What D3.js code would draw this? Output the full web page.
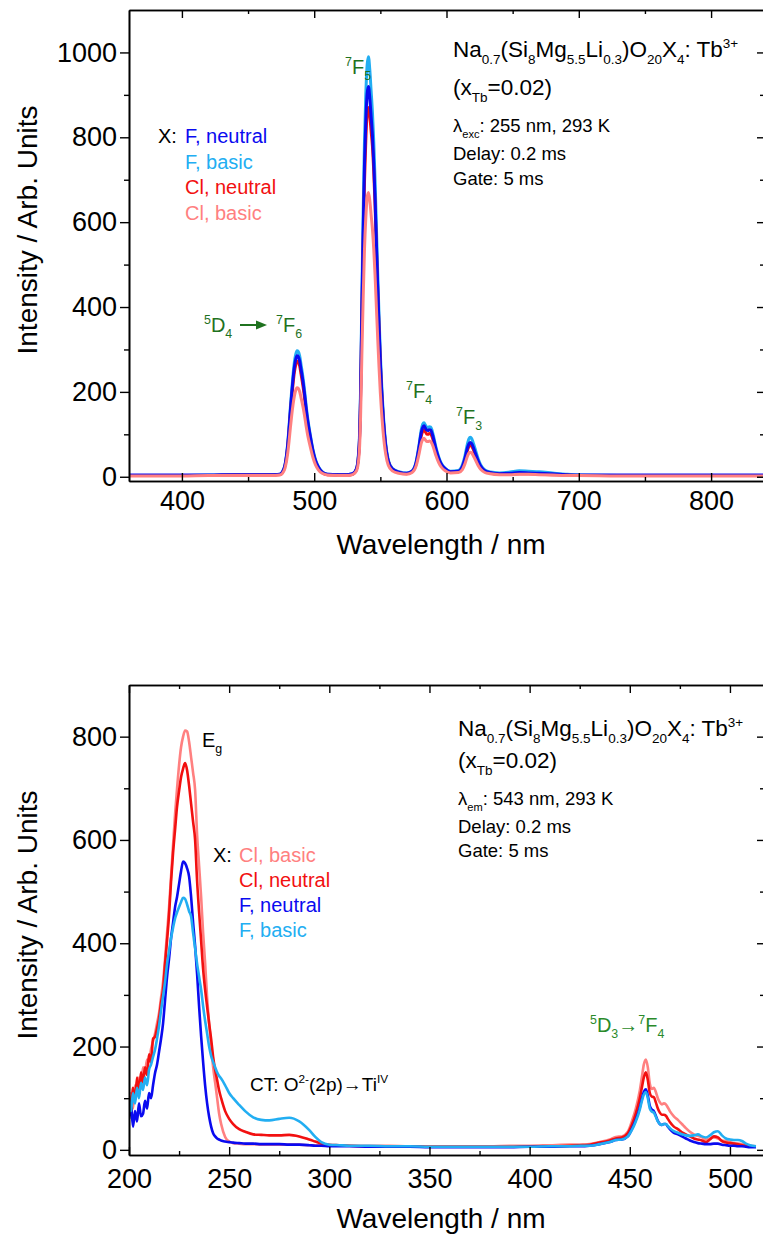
<!DOCTYPE html>
<html>
<head>
<meta charset="utf-8">
<script src="https://cdn.jsdelivr.net/npm/d3@7"></script>
<style>
  body { margin: 0; background: #fff; }
  svg { display: block; font-family: Arial, "Liberation Sans", sans-serif; }
</style>
</head>
<body>
<svg id="fig" width="763" height="1234"></svg>
<script>
// ---------- Emission spectra (λexc = 255 nm) ----------
const emWl = [360, 380, 400, 420, 440, 460, 470,
  474, 476, 478, 480,
  481, 482, 483, 484, 485, 486, 487, 488, 489, 490, 491, 492, 493, 494, 495,
  497, 499, 501, 503, 506, 510,
  518,
  525, 529, 532, 534,
  535, 536, 537, 538, 539, 540, 541, 542, 543, 544, 545, 546, 547, 548, 549, 550,
  552, 554, 556, 559, 564, 570,
  574, 577, 579,
  581, 582, 583, 584, 585, 586, 587, 588, 589, 590, 591, 592,
  594, 596, 599, 603,
  609, 612, 614, 616,
  617, 618, 619, 620, 621, 622,
  624, 626, 629, 633,
  640, 648, 655, 662, 670, 680, 690, 700,
  730, 760, 800, 840];

const emFBasic = [3, 3, 3, 4, 4, 4, 5,
  6, 12, 30, 80,
  120, 165, 205, 240, 270, 288, 297, 295, 285, 265, 245, 222, 195, 165, 140,
  100, 65, 40, 25, 12, 6,
  5,
  5, 7, 20, 80,
  200, 420, 620, 790, 900, 970, 990, 960, 910, 860, 790, 700, 590, 480, 380, 290,
  160, 80, 40, 20, 12, 9,
  14, 35, 70,
  112, 124, 127, 122, 117, 116, 118, 117, 110, 98, 84, 70,
  48, 32, 20, 13,
  15, 28, 50, 80,
  90, 93, 90, 82, 72, 62,
  42, 27, 16, 11,
  9, 11, 14, 13, 12, 9, 6, 4,
  3, 3, 3, 3];

const emFNeutral = [4, 4, 4, 4, 5, 5, 5,
  6, 11, 28, 76,
  114, 157, 196, 230, 258, 276, 285, 283, 273, 254, 235, 213, 187, 158, 134,
  96, 62, 38, 24, 11, 6,
  5,
  5, 7, 19, 74,
  186, 390, 576, 735, 837, 902, 920, 893, 850, 805, 740, 655, 552, 450, 356, 272,
  150, 75, 37, 19, 11, 8,
  13, 33, 66,
  105, 116, 120, 115, 110, 109, 111, 110, 103, 92, 79, 66,
  45, 30, 19, 12,
  13, 24, 44, 70,
  78, 81, 78, 72, 63, 54,
  37, 24, 14, 10,
  7, 8, 10, 9, 8, 7, 5, 4,
  4, 4, 4, 4];

const emClNeutral = [3, 3, 3, 3, 4, 4, 4,
  5, 10, 27, 72,
  108, 150, 187, 219, 246, 263, 272, 270, 261, 243, 224, 203, 178, 151, 128,
  91, 59, 36, 22, 10, 5,
  4,
  4, 6, 18, 70,
  176, 370, 545, 695, 792, 855, 870, 850, 815, 780, 720, 640, 540, 440, 348, 265,
  146, 72, 36, 18, 10, 7,
  12, 30, 61,
  97, 107, 110, 106, 101, 100, 102, 101, 95, 85, 73, 61,
  42, 28, 17, 11,
  12, 22, 40, 64,
  72, 75, 72, 66, 58, 50,
  34, 22, 13, 9,
  6, 6, 7, 7, 6, 5, 4, 3,
  3, 3, 3, 3];

const emClBasic = [2, 2, 2, 3, 3, 3, 3,
  4, 8, 21, 56,
  84, 116, 145, 170, 190, 204, 210, 208, 201, 187, 173, 157, 138, 117, 99,
  71, 46, 28, 17, 8, 4,
  3,
  3, 5, 14, 54,
  135, 284, 420, 535, 610, 657, 670, 652, 618, 584, 537, 475, 400, 326, 258, 197,
  109, 54, 27, 14, 8, 6,
  10, 25, 50,
  80, 88, 91, 87, 83, 83, 84, 83, 78, 70, 60, 50,
  34, 23, 14, 9,
  10, 17, 31, 50,
  56, 58, 56, 51, 45, 39,
  26, 17, 10, 7,
  5, 5, 6, 6, 5, 4, 3, 3,
  2, 2, 2, 2];

const emXMajor = [400, 500, 600, 700, 800];
const emXMinor = [450, 550, 650, 750];
const emYMajor = [0, 200, 400, 600, 800, 1000];
const emYMinor = [100, 300, 500, 700, 900];

// ---------- Excitation spectra (λem = 543 nm) ----------
const exWl = [200, 201, 202, 203, 204, 205, 206, 207, 208, 209, 210, 211, 212, 213, 214, 215,
  216, 217, 218, 219, 220, 221, 222, 223, 224, 225, 226, 227, 228, 229, 230, 231, 232, 233,
  234, 235, 236, 237, 238, 239, 240, 241, 242, 243, 244, 245, 246, 248, 250, 252, 255, 258,
  262, 266, 270, 275, 280, 285, 290, 293, 296, 300, 305, 310, 320, 330, 340, 350, 360, 370,
  380, 390, 400, 410, 420, 425, 430, 435, 440, 443, 446, 449, 451, 453, 455, 456, 457, 458,
  459, 460, 461, 462, 463, 464, 465, 466, 467, 468, 469, 470, 472, 474, 476, 478, 480, 482,
  484, 486, 488, 490, 492, 494, 496, 498, 500, 502, 504, 506, 508, 510, 513];

const exClBasic = [95, 110, 80, 125, 115, 140, 125, 160, 150, 175, 170, 195, 210, 225, 245, 265,
  295, 325, 370, 420, 470, 530, 590, 650, 700, 745, 780, 800, 812, 810, 790, 760, 730, 697,
  610, 550, 490, 420, 362, 295, 245, 200, 160, 130, 100, 70, 50, 25, 16, 13, 12, 11,
  11, 10, 10, 10, 10, 10, 9, 9, 9, 8, 8, 8, 8, 8, 7, 7, 7, 7,
  7, 8, 8, 9, 10, 10, 11, 15, 20, 25, 26, 35, 55, 80, 115, 140, 165, 175,
  160, 128, 118, 120, 112, 100, 92, 88, 90, 88, 82, 75, 65, 58, 50, 42, 35, 30,
  27, 24, 20, 22, 24, 22, 18, 17, 15, 13, 12, 11, 10, 8, 7];

const exClNeutral = [105, 70, 120, 95, 140, 110, 150, 130, 160, 145, 185, 170, 215, 219, 235, 255,
  285, 310, 360, 405, 455, 520, 575, 620, 665, 695, 722, 738, 749, 735, 705, 670, 635, 600,
  520, 460, 405, 350, 310, 277, 245, 215, 180, 155, 135, 115, 100, 75, 60, 50, 40, 35,
  30, 29, 28, 28, 29, 26, 20, 16, 12, 10, 9, 8, 7, 7, 7, 6, 6, 6,
  6, 6, 7, 7, 8, 9, 10, 14, 18, 22, 24, 32, 48, 70, 100, 120, 140, 150,
  135, 110, 103, 102, 92, 80, 72, 68, 68, 66, 60, 54, 45, 40, 34, 30, 26, 22,
  20, 18, 15, 20, 26, 24, 17, 14, 13, 12, 11, 9, 8, 7, 6];

const exFNeutral = [60, 85, 45, 75, 55, 90, 65, 70, 95, 80, 110, 100, 125, 149, 165, 190,
  215, 245, 290, 335, 370, 410, 440, 470, 490, 515, 540, 558, 555, 545, 529, 490, 440, 395,
  340, 277, 220, 170, 125, 90, 64, 45, 32, 26, 22, 20, 18, 16, 15, 14, 13, 12,
  12, 11, 11, 11, 10, 10, 9, 8, 8, 7, 7, 7, 6, 6, 6, 5, 5, 5,
  5, 5, 6, 6, 7, 7, 8, 11, 15, 19, 20, 26, 40, 58, 82, 98, 112, 117,
  105, 85, 78, 75, 66, 56, 50, 48, 50, 50, 45, 40, 33, 30, 26, 22, 18, 15,
  13, 12, 11, 11, 12, 12, 10, 9, 8, 8, 7, 7, 6, 5, 5];

const exFBasic = [97, 75, 110, 90, 120, 100, 130, 116, 140, 125, 155, 165, 180, 194, 215, 240,
  270, 297, 325, 360, 385, 410, 430, 448, 460, 470, 480, 488, 486, 475, 462, 452, 420, 390,
  360, 335, 310, 278, 250, 225, 200, 182, 170, 160, 150, 143, 138, 125, 110, 100, 87, 75,
  63, 58, 57, 60, 62, 55, 38, 25, 15, 10, 9, 8, 8, 7, 7, 6, 6, 6,
  6, 6, 6, 7, 7, 8, 8, 11, 15, 19, 20, 26, 38, 55, 78, 94, 107, 112,
  100, 80, 74, 72, 64, 55, 50, 48, 50, 50, 46, 42, 36, 33, 30, 28, 27, 28,
  30, 26, 24, 28, 34, 36, 28, 22, 20, 19, 19, 17, 12, 9, 7];

const exXMajor = [200, 250, 300, 350, 400, 450, 500];
const exXMinor = [225, 275, 325, 375, 425, 475];
const exYMajor = [0, 200, 400, 600, 800];
const exYMinor = [100, 300, 500, 700];

const COLORS = {
  fNeutral: "#0a0af0",
  fBasic: "#22aef2",
  clNeutral: "#f21010",
  clBasic: "#ff8080",
  green1: "#1f721f",
  green2: "#2a8a2a"
};

const svg = d3.select("#fig");
const defs = svg.append("defs");
const TICK_FONT = 27;
const TITLE_FONT = 28;

// Text with sub/superscripts: parts = [[text, ""|"sub"|"sup"], ...]
function rich(sel, x, y, parts, fs, color, smallScale = 0.62) {
  const t = sel.append("text").attr("x", x).attr("y", y).attr("fill", color)
    .style("font-size", fs + "px");
  let cur = 0;
  parts.forEach(([s, k]) => {
    const target = k === "sub" ? fs * 0.3 : k === "sup" ? -fs * 0.42 : 0;
    t.append("tspan").attr("dy", (target - cur).toFixed(2))
      .style("font-size", (k ? fs * smallScale : fs) + "px").text(s);
    cur = target;
  });
  return t;
}

function drawPanel(cfg) {
  const x = d3.scaleLinear().domain(cfg.xDom).range([cfg.left, cfg.right]);
  const y = d3.scaleLinear().domain(cfg.yDom).range([cfg.bottom, cfg.top]);
  const g = svg.append("g");

  defs.append("clipPath").attr("id", cfg.name)
    .append("rect").attr("x", cfg.left).attr("y", cfg.top)
    .attr("width", cfg.right - cfg.left).attr("height", cfg.bottom - cfg.top);

  const line = d3.line()
    .x((d, i) => x(cfg.wl[i]))
    .y(d => y(d))
    .curve(d3.curveMonotoneX);

  const lines = g.append("g").attr("clip-path", `url(#${cfg.name})`);
  cfg.series.forEach(s => {
    lines.append("path").attr("d", line(s.values))
      .attr("fill", "none").attr("stroke", s.color)
      .attr("stroke-width", cfg.lw).attr("stroke-linejoin", "round");
  });

  const styleAxis = a => {
    a.attr("font-family", null).attr("font-size", null);
    a.selectAll("path.domain").attr("stroke", "#000").attr("stroke-width", 1.6);
    a.selectAll(".tick line").attr("stroke", "#000").attr("stroke-width", 1.4);
    a.selectAll(".tick text").attr("fill", "#000").style("font-size", TICK_FONT + "px");
  };

  // bottom axis (ticks inward)
  g.append("g").attr("transform", `translate(0,${cfg.bottom})`)
    .call(d3.axisBottom(x).tickValues(cfg.xMajor).tickSizeInner(-8).tickSizeOuter(0)
      .tickPadding(cfg.xPad).tickFormat(d3.format("d")))
    .call(styleAxis);
  g.append("g").attr("transform", `translate(0,${cfg.bottom})`)
    .call(d3.axisBottom(x).tickValues(cfg.xMinor).tickSizeInner(-4).tickSizeOuter(0).tickFormat(""))
    .call(styleAxis);
  // top mirror
  g.append("g").attr("transform", `translate(0,${cfg.top})`)
    .call(d3.axisTop(x).tickValues(cfg.xMajor).tickSizeInner(-8).tickSizeOuter(0).tickFormat(""))
    .call(styleAxis);
  g.append("g").attr("transform", `translate(0,${cfg.top})`)
    .call(d3.axisTop(x).tickValues(cfg.xMinor).tickSizeInner(-4).tickSizeOuter(0).tickFormat(""))
    .call(styleAxis);
  // left axis (ticks outward)
  g.append("g").attr("transform", `translate(${cfg.left},0)`)
    .call(d3.axisLeft(y).tickValues(cfg.yMajor).tickSizeInner(9).tickSizeOuter(0)
      .tickPadding(3).tickFormat(d3.format("d")))
    .call(styleAxis);
  g.append("g").attr("transform", `translate(${cfg.left},0)`)
    .call(d3.axisLeft(y).tickValues(cfg.yMinor).tickSizeInner(5).tickSizeOuter(0).tickFormat(""))
    .call(styleAxis);
  // right mirror (ticks inward)
  g.append("g").attr("transform", `translate(${cfg.right},0)`)
    .call(d3.axisRight(y).tickValues(cfg.yMajor).tickSizeInner(-7).tickSizeOuter(0).tickFormat(""))
    .call(styleAxis);
  g.append("g").attr("transform", `translate(${cfg.right},0)`)
    .call(d3.axisRight(y).tickValues(cfg.yMinor).tickSizeInner(-4).tickSizeOuter(0).tickFormat(""))
    .call(styleAxis);

  // axis titles
  g.append("text").attr("x", 441).attr("y", cfg.xTitleY)
    .attr("text-anchor", "middle").style("font-size", TITLE_FONT + "px").text("Wavelength / nm");
  g.append("text")
    .attr("transform", `translate(${cfg.yTitleX},${cfg.yTitleCy}) rotate(-90)`)
    .attr("text-anchor", "middle").style("font-size", TITLE_FONT + "px").text("Intensity / Arb. Units");

  return { g, x, y };
}

// ===== Top panel: emission =====
const em = drawPanel({
  name: "clipEm", left: 129, right: 764, top: 10, bottom: 481,
  xDom: [360, 840], yDom: [-10, 1100],
  xMajor: emXMajor, xMinor: emXMinor, yMajor: emYMajor, yMinor: emYMinor,
  xPad: 10, xTitleY: 554, yTitleX: 37, yTitleCy: 230, lw: 3,
  wl: emWl,
  series: [
    { values: emFBasic, color: COLORS.fBasic },
    { values: emClNeutral, color: COLORS.clNeutral },
    { values: emFNeutral, color: COLORS.fNeutral },
    { values: emClBasic, color: COLORS.clBasic }
  ]
});

const formula = [["Na", ""], ["0.7", "sub"], ["(Si", ""], ["8", "sub"], ["Mg", ""], ["5.5", "sub"],
  ["Li", ""], ["0.3", "sub"], [")O", ""], ["20", "sub"], ["X", ""], ["4", "sub"], [": Tb", ""], ["3+", "sup"]];

// composition block
rich(em.g, 453, 57, formula, 22.5, "#000", 0.6);
rich(em.g, 453, 95, [["(x", ""], ["Tb", "sub"], ["=0.02)", ""]], 22.5, "#000", 0.6);
rich(em.g, 453, 132, [["λ", ""], ["exc", "sub"], [": 255 nm, 293 K", ""]], 18.5, "#000", 0.6);
em.g.append("text").attr("x", 453).attr("y", 160).style("font-size", "18.5px").text("Delay: 0.2 ms");
em.g.append("text").attr("x", 453).attr("y", 185).style("font-size", "18.5px").text("Gate: 5 ms");

// legend
const emLegend = [
  ["F, neutral", COLORS.fNeutral],
  ["F, basic", COLORS.fBasic],
  ["Cl, neutral", COLORS.clNeutral],
  ["Cl, basic", COLORS.clBasic]
];
em.g.append("text").attr("x", 158).attr("y", 143).style("font-size", "20px").text("X:");
emLegend.forEach(([t, c], i) => {
  em.g.append("text").attr("x", 185).attr("y", 143 + i * 25.7).attr("fill", c)
    .style("font-size", "20px").text(t);
});

// transition labels
rich(em.g, 204, 332, [["5", "sup"], ["D", ""], ["4", "sub"]], 20, COLORS.green1);
em.g.append("line").attr("x1", 240).attr("x2", 258).attr("y1", 325).attr("y2", 325)
  .attr("stroke", COLORS.green1).attr("stroke-width", 2);
em.g.append("path").attr("d", "M256,320.5 L267,325 L256,329.5 Z").attr("fill", COLORS.green1);
rich(em.g, 276, 332, [["7", "sup"], ["F", ""], ["6", "sub"]], 20, COLORS.green1);
rich(em.g, 345, 74, [["7", "sup"], ["F", ""], ["5", "sub"]], 20, COLORS.green1);
rich(em.g, 406, 398, [["7", "sup"], ["F", ""], ["4", "sub"]], 20, COLORS.green1);
rich(em.g, 456, 424, [["7", "sup"], ["F", ""], ["3", "sub"]], 20, COLORS.green1);

// ===== Bottom panel: excitation =====
const ex = drawPanel({
  name: "clipEx", left: 129, right: 764, top: 685, bottom: 1155,
  xDom: [200, 517], yDom: [-10, 900],
  xMajor: exXMajor, xMinor: exXMinor, yMajor: exYMajor, yMinor: exYMinor,
  xPad: 14, xTitleY: 1228, yTitleX: 37, yTitleCy: 915, lw: 2.6,
  wl: exWl,
  series: [
    { values: exClBasic, color: COLORS.clBasic },
    { values: exClNeutral, color: COLORS.clNeutral },
    { values: exFNeutral, color: COLORS.fNeutral },
    { values: exFBasic, color: COLORS.fBasic }
  ]
});

rich(ex.g, 458, 736, formula, 22.5, "#000", 0.6);
rich(ex.g, 458, 768, [["(x", ""], ["Tb", "sub"], ["=0.02)", ""]], 22.5, "#000", 0.6);
rich(ex.g, 458, 805, [["λ", ""], ["em", "sub"], [": 543 nm, 293 K", ""]], 18.5, "#000", 0.6);
ex.g.append("text").attr("x", 458).attr("y", 833).style("font-size", "18.5px").text("Delay: 0.2 ms");
ex.g.append("text").attr("x", 458).attr("y", 857).style("font-size", "18.5px").text("Gate: 5 ms");

const exLegend = [
  ["Cl, basic", COLORS.clBasic],
  ["Cl, neutral", COLORS.clNeutral],
  ["F, neutral", COLORS.fNeutral],
  ["F, basic", COLORS.fBasic]
];
ex.g.append("text").attr("x", 213).attr("y", 862).style("font-size", "20px").text("X:");
exLegend.forEach(([t, c], i) => {
  ex.g.append("text").attr("x", 239).attr("y", 862 + i * 25).attr("fill", c)
    .style("font-size", "20px").text(t);
});

rich(ex.g, 202, 747, [["E", ""], ["g", "sub"]], 20, "#000");
rich(ex.g, 250, 1091, [["CT: O", ""], ["2-", "sup"], ["(2p)→Ti", ""], ["IV", "sup"]], 19, "#000");
rich(ex.g, 590, 1032, [["5", "sup"], ["D", ""], ["3", "sub"], ["→", ""], ["7", "sup"], ["F", ""], ["4", "sub"]], 20, COLORS.green2);
</script>
</body>
</html>
